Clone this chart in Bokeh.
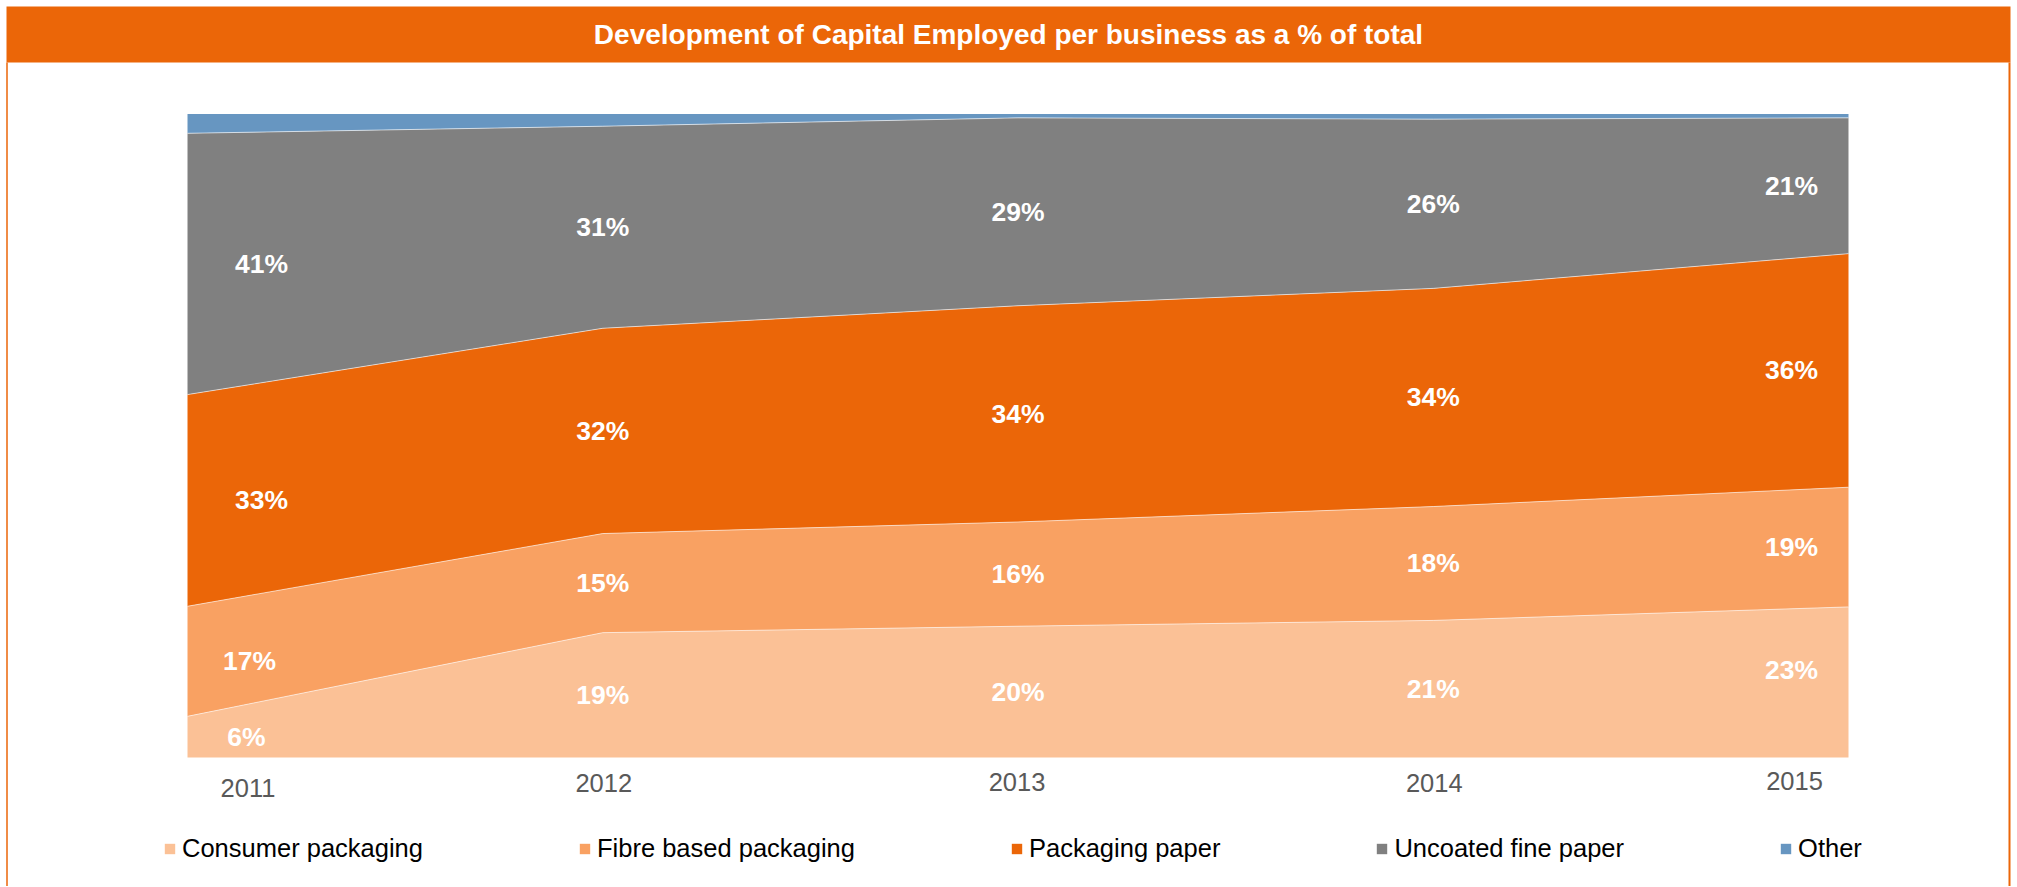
import numpy as np
from bokeh.plotting import figure
from bokeh.models import Range1d, Legend, LegendItem, ColumnDataSource
from bokeh.core.properties import value
from bokeh.embed import file_html
from bokeh.resources import INLINE

# ---------------- data ----------------
years = ["2011", "2012", "2013", "2014", "2015"]
consumer_packaging = [6.4, 19.4, 20.4, 21.3, 23.4]
fibre_based_packaging = [17.1, 15.4, 16.2, 17.7, 18.6]
packaging_paper = [32.9, 31.9, 33.6, 33.9, 36.3]
uncoated_fine_paper = [40.6, 31.4, 29.2, 26.3, 21.1]
other = [3.0, 1.9, 0.6, 0.8, 0.6]

series_names = ["Consumer packaging", "Fibre based packaging", "Packaging paper",
                "Uncoated fine paper", "Other"]
series_values = [consumer_packaging, fibre_based_packaging, packaging_paper,
                 uncoated_fine_paper, other]
series_labelled = [True, True, True, True, False]
title_text = "Development of Capital Employed per business as a % of total"

# ---------------- styles ----------------
colors = ["#FBC196", "#F9A162", "#EB6608", "#808080", "#6796C1"]
ORANGE = "#EB6608"
FONT = "Liberation Sans"

W, H = 2016, 886
L, R, T, B = 187.0, 1848.0, 113.5, 757.0   # data area in canvas px
n = len(years)
kx = (R - L) / (n - 1)
ky = (B - T) / 100.0


def xd(px):
    return (px - L) / kx


def yd(py):
    return (B - py) / ky


p = figure(width=W, height=H, x_range=Range1d(xd(0), xd(W)), y_range=Range1d(yd(H), yd(0)),
           x_axis_type=None, y_axis_type=None, toolbar_location=None, output_backend="svg",
           min_border_left=0, min_border_right=0, min_border_top=0, min_border_bottom=0,
           outline_line_color=None, background_fill_color="white", border_fill_color="white")
p.title.visible = False

# title bar + frame lines
p.quad(left=[xd(6)], right=[xd(2010)], top=[yd(6)], bottom=[yd(62)],
       fill_color=ORANGE, line_color=None)
p.text(x=[xd(1008)], y=[yd(34)], text=[title_text], text_align="center",
       text_baseline="middle", text_color="white", text_font=value(FONT),
       text_font_style="bold", text_font_size="28px")
p.line([xd(6.5), xd(6.5)], [yd(62), yd(H + 3)], line_color=ORANGE, line_width=1.5)
p.line([xd(2009), xd(2009)], [yd(62), yd(H + 3)], line_color=ORANGE, line_width=2)

# stacked areas
xs = list(range(n))
base = np.zeros(n)
items = []
lab_x, lab_y, lab_t, lab_xo, lab_yo = [], [], [], [], []
first_shift = [59, 62, 74, 74]
last_shift = -57
last_yshift = [-12, 0, 0, 0]
bounds = []
k = 0
for name, vals, col, lab in zip(series_names, series_values, colors, series_labelled):
    v = np.array(vals, dtype=float)
    top = base + v
    r = p.varea(x=xs, y1=base.tolist(), y2=top.tolist(), fill_color=col)
    items.append(LegendItem(label=name, renderers=[r]))
    if lab:
        for i in range(n):
            lab_x.append(xs[i])
            lab_y.append((base[i] + top[i]) / 2)
            lab_t.append(f"{int(v[i] + 0.5)}%")
            lab_xo.append(first_shift[k] if i == 0 else (last_shift if i == n - 1 else 0))
            lab_yo.append(last_yshift[k] if i == n - 1 else 0)
        k += 1
    bounds.append(top.copy())
    base = top

for b in bounds[:-1]:
    p.line(xs, b.tolist(), line_color="white", line_width=1, line_alpha=0.6)

src = ColumnDataSource(dict(x=lab_x, y=lab_y, t=lab_t, xo=lab_xo, yo=lab_yo))
p.text(x="x", y="y", text="t", x_offset="xo", y_offset="yo", source=src, text_align="center",
       text_baseline="middle", text_color="white", text_font=value(FONT),
       text_font_style="bold", text_font_size="26.5px")

# year labels
ysrc = ColumnDataSource(dict(x=xs, y=[0] * n, t=years, xo=[60.5, 1, -1, 1, -54],
                             yo=[30, 25, 24, 25, 23.5]))
p.text(x="x", y="y", text="t", x_offset="xo", y_offset="yo", source=ysrc,
       text_align="center", text_baseline="middle", text_color="#595959",
       text_font=value(FONT), text_font_size="25.5px")

legend = Legend(items=items, orientation="horizontal", location=(163, 23), spacing=155,
                padding=0, margin=0, glyph_width=13, glyph_height=13, label_standoff=6,
                label_height=30, label_text_font=FONT, label_text_font_size="25.5px",
                label_text_color="black", border_line_color=None, background_fill_alpha=0)
p.add_layout(legend)

open("out.html", "w").write(file_html(p, INLINE))
